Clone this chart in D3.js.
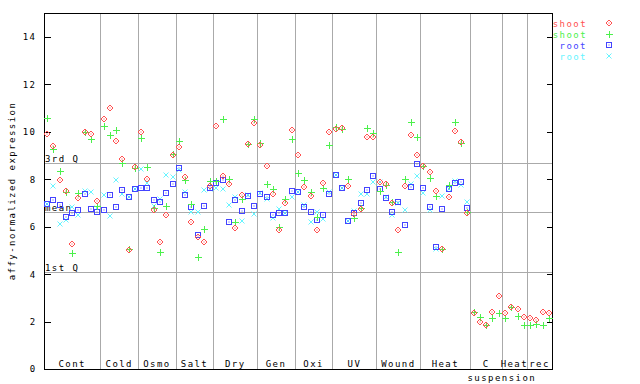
<!DOCTYPE html>
<html>
<head>
<meta charset="utf-8">
<script src="https://cdn.jsdelivr.net/npm/d3@7"></script>
<style>
  body { margin: 0; background: #fff; }
  text { font-family: "DejaVu Sans Mono", monospace; font-size: 9px; letter-spacing: 1.45px; fill: #000; }
</style>
</head>
<body>
<svg id="chart" width="640" height="384"></svg>
<script>
// treatments along the x axis and how many samples each one has
var groupLabels = [["Cont"],["Cold"],["Osmo"],["Salt"],["Dry"],["Gen"],["Oxi"],["UV"],["Wound"],["Heat"],["C","suspension"],["Heat"],["rec"]];
var groupSizes = [9,6,6,6,7,6,6,7,7,8,5,4,4];

// shoot replicate 1 (red diamonds)
var shootRep1 = [9.91,9.40,7.97,7.52,5.27,7.20,9.98,9.91,7.08,
  10.53,11.0,9.60,8.86,5.02,8.53,
  9.98,8.00,6.70,5.37,6.49,9.02,
  9.38,8.08,6.18,5.58,5.34,7.72,
  10.25,8.14,7.79,5.93,7.34,9.47,10.36,
  9.45,8.56,7.37,5.86,6.99,10.08,
  9.02,7.69,7.31,5.86,7.83,10.01,
  10.12,10.15,7.72,6.55,6.73,9.77,9.77,
  7.90,7.80,7.00,5.86,7.72,9.87,9.02,
  8.56,8.32,7.52,5.05,7.27,10.04,9.59,6.57,
  2.35,1.97,1.84,2.39,3.08,
  2.35,2.60,2.52,2.18,
  2.14,2.05,2.39,2.35];
// shoot replicate 2 (green crosses)
var shootRep2 = [10.57,9.26,8.35,7.48,4.88,7.41,9.98,9.69,6.87,
  10.25,9.87,10.08,8.67,5.05,8.49,
  9.73,8.50,6.78,4.92,6.87,9.07,
  9.63,7.97,6.94,4.72,5.90,7.93,
  7.93,10.53,8.00,6.21,7.18,9.47,10.54,
  9.52,7.79,7.58,6.00,7.17,9.69,
  8.25,7.97,7.46,6.40,7.62,9.45,
  10.22,10.11,8.00,6.35,6.78,10.15,9.94,
  7.51,7.76,7.03,4.92,8.00,10.43,9.77,
  8.56,8.04,7.30,5.05,7.76,10.40,9.52,6.60,
  2.39,2.18,1.84,2.14,2.35,
  2.14,2.60,2.22,1.84,
  1.84,1.88,1.84,2.14];
// root replicate 1 (blue squares), no root samples for the last three groups
var rootRep1 = [6.96,7.13,6.90,6.40,6.57,6.70,7.37,6.75,6.62,
  6.70,7.34,6.82,7.55,7.25,7.58,
  7.62,7.62,7.13,7.03,7.41,7.79,
  8.46,7.32,6.82,5.65,6.87,7.62,
  7.83,7.97,6.18,7.13,6.66,7.30,6.87,
  7.38,7.27,6.49,6.57,6.57,7.51,
  7.45,6.85,6.61,6.28,6.49,7.38,
  8.18,7.62,6.25,6.57,6.99,7.55,8.15,
  7.58,7.20,6.63,7.03,6.07,7.69,8.63,
  7.62,6.85,5.16,6.73,7.58,7.83,7.90,6.78,
  null,null,null,null,null,null,null,null,null,null,null,null,null];
// root replicate 2 (cyan x)
var rootRep2 = [6.96,7.72,6.11,6.28,6.82,6.49,7.52,7.45,6.80,
  7.34,6.45,7.97,7.37,7.25,7.58,
  8.42,7.83,6.87,7.18,8.18,8.08,
  8.39,7.48,6.63,6.63,7.55,7.60,
  7.62,7.58,6.90,7.27,6.24,7.34,6.54,
  7.44,7.18,6.35,6.73,6.57,7.24,
  7.45,6.92,6.21,6.61,6.33,7.45,
  8.18,7.62,6.25,6.66,7.38,7.40,7.90,
  7.90,7.27,6.49,7.00,6.70,7.80,8.14,
  7.44,6.72,5.05,7.31,7.58,7.93,7.76,7.03,
  null,null,null,null,null,null,null,null,null,null,null,null,null];

var yTicks = [0,2,4,6,8,10,12,14];
var quartileNames = ["3rd Q","mean","1st Q"];
var quartileValues = [8.67,6.61,4.08];
var seriesNames = ["shoot","shoot","root","root"];
var seriesColors = ["#ff5050","#4cf04c","#4444ff","#66f4ff"];
var seriesShapes = ["diamond","plus","square","cross"];

var svg = d3.select("#chart");
var nSlots = d3.sum(groupSizes);
var x = d3.scaleLinear().domain([0, nSlots]).range([44, 552]);
var y = d3.scaleLinear().domain([0, 15]).range([369, 13.3]);

// group boundaries in sample units
var bounds = [0];
groupSizes.forEach(function (s, i) { bounds.push(bounds[i] + s); });

// gray separators between treatments
svg.append("g")
  .selectAll("line")
  .data(bounds.slice(1, -1))
  .join("line")
  .attr("x1", function (d) { return Math.round(x(d)) + 0.5; })
  .attr("x2", function (d) { return Math.round(x(d)) + 0.5; })
  .attr("y1", y(15))
  .attr("y2", y(0))
  .style("stroke", "#aaaaaa")
  .style("shape-rendering", "crispEdges");

// quartile / mean lines
svg.append("g")
  .selectAll("line")
  .data(quartileValues)
  .join("line")
  .attr("x1", x(0))
  .attr("x2", x(nSlots))
  .attr("y1", function (d) { return Math.round(y(d)) + 0.5; })
  .attr("y2", function (d) { return Math.round(y(d)) + 0.5; })
  .style("stroke", "#aaaaaa")
  .style("shape-rendering", "crispEdges");

svg.append("g")
  .selectAll("text")
  .data(quartileNames)
  .join("text")
  .attr("x", x(0) + 1)
  .attr("y", function (d, i) { return Math.round(y(quartileValues[i])) - 1; })
  .text(function (d) { return d; });

// frame
svg.append("rect")
  .attr("x", x(0) + 0.5)
  .attr("y", Math.round(y(15)) + 0.5)
  .attr("width", x(nSlots) - x(0))
  .attr("height", Math.round(y(0)) - Math.round(y(15)))
  .style("fill", "none")
  .style("stroke", "#000")
  .style("shape-rendering", "crispEdges");

// left and right axes, ticks pointing into the plot
var leftAxis = svg.append("g")
  .attr("transform", "translate(" + (x(0) + 0.5) + ",0)")
  .call(d3.axisLeft(y).tickValues(yTicks).tickSizeInner(-6).tickSizeOuter(0).tickPadding(8));
leftAxis.select(".domain").remove();
leftAxis.selectAll("line").style("shape-rendering", "crispEdges");

var rightAxis = svg.append("g")
  .attr("transform", "translate(" + (x(nSlots) + 0.5) + ",0)")
  .call(d3.axisRight(y).tickValues(yTicks).tickSizeInner(-6).tickSizeOuter(0).tickFormat(""));
rightAxis.select(".domain").remove();
rightAxis.selectAll("line").style("shape-rendering", "crispEdges");

// y title
svg.append("text")
  .attr("transform", "translate(15," + 191 + ") rotate(-90)")
  .attr("text-anchor", "middle")
  .text("affy-normalized expression");

// group labels at the bottom
var labelGroups = svg.append("g")
  .selectAll("g")
  .data(groupLabels)
  .join("g");
labelGroups.append("text")
  .attr("x", function (d, i) { return (x(bounds[i]) + x(bounds[i + 1])) / 2; })
  .attr("y", 367)
  .attr("text-anchor", "middle")
  .text(function (d) { return d[0]; });
labelGroups.filter(function (d) { return d.length > 1; })
  .append("text")
  .attr("x", function (d) { return x(bounds[groupLabels.indexOf(d)]) - 3; })
  .attr("y", 381)
  .text(function (d) { return d[1]; });

// marker drawing, small pixel-like symbols
function drawMarker(sel, shape, color) {
  if (shape == "diamond") {
    sel.append("path").attr("d", "M0,-3L3,0L0,3L-3,0Z")
      .style("fill", "none").style("stroke", color).style("stroke-width", 1);
    sel.append("rect").attr("x", -0.5).attr("y", -0.5).attr("width", 1).attr("height", 1).style("fill", color);
  } else if (shape == "plus") {
    sel.append("path").attr("d", "M-3,0.5H4M0.5,-3V4")
      .style("stroke", color).style("stroke-width", 1).style("shape-rendering", "crispEdges");
  } else if (shape == "square") {
    sel.append("rect").attr("x", -2.5).attr("y", -2.5).attr("width", 5).attr("height", 5)
      .style("fill", "none").style("stroke", color).style("stroke-width", 1);
    sel.append("rect").attr("x", -0.5).attr("y", -0.5).attr("width", 1).attr("height", 1).style("fill", color);
  } else {
    sel.append("path").attr("d", "M-2.5,-2.5L2.5,2.5M-2.5,2.5L2.5,-2.5")
      .style("stroke", color).style("stroke-width", 1);
  }
}

var allSeries = [shootRep1, shootRep2, rootRep1, rootRep2];
// draw in reverse so the shoot points sit on top
[3, 2, 1, 0].forEach(function (k) {
  var pts = allSeries[k]
    .map(function (v, i) { return {i: i, v: v}; })
    .filter(function (d) { return d.v != null; });
  var g = svg.append("g")
    .selectAll("g")
    .data(pts)
    .join("g")
    .attr("transform", function (d) { return "translate(" + Math.round(x(d.i + 0.5)) + "," + Math.round(y(d.v)) + ")"; });
  drawMarker(g, seriesShapes[k], seriesColors[k]);
});

// legend, top right
var legend = svg.append("g")
  .selectAll("g")
  .data(seriesNames)
  .join("g")
  .attr("transform", function (d, i) { return "translate(0," + (27 + 11 * i) + ")"; });
legend.append("text")
  .attr("x", 587)
  .attr("text-anchor", "end")
  .style("fill", function (d, i) { return seriesColors[i]; })
  .text(function (d) { return d; });
legend.each(function (d, i) {
  var m = d3.select(this).append("g").attr("transform", "translate(609,-4)");
  drawMarker(m, seriesShapes[i], seriesColors[i]);
});
</script>
</body>
</html>
